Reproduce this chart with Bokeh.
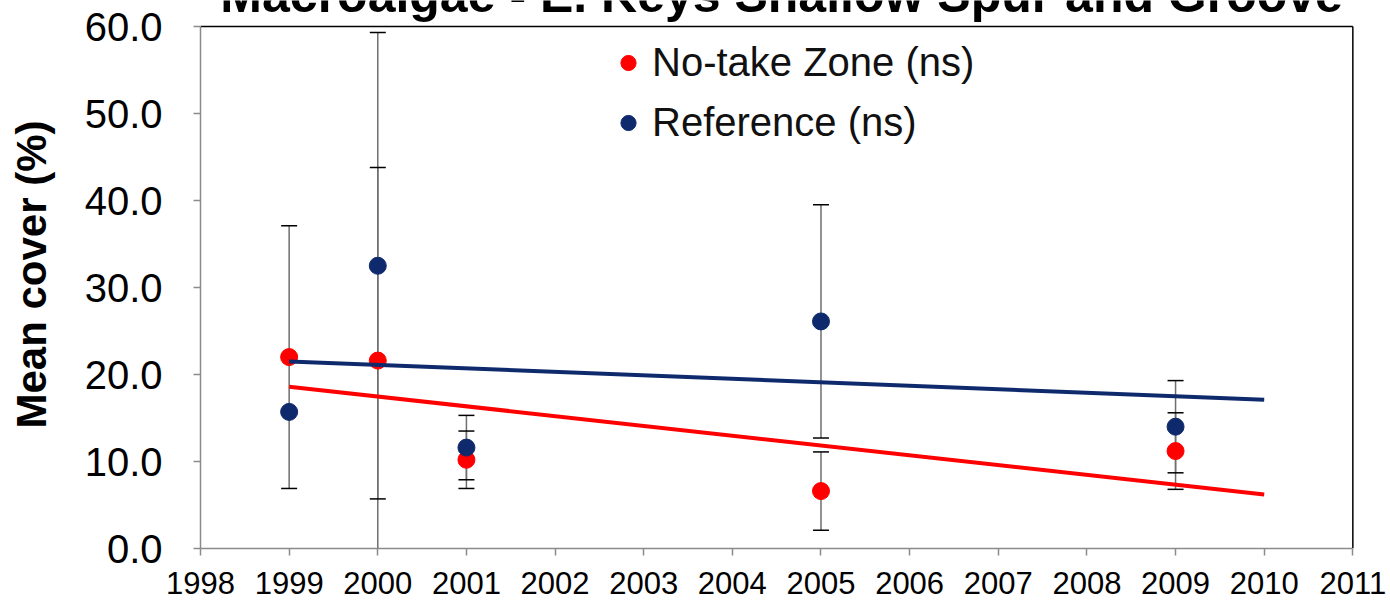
from bokeh.plotting import figure
from bokeh.models import (ColumnDataSource, Legend, LegendItem,
                          PrintfTickFormatter, FixedTicker)
from bokeh.core.properties import value
from bokeh.embed import file_html
from bokeh.resources import INLINE

# ---- data ----
years = [1999, 2000, 2001, 2005, 2009]
notake_mean = [22.0, 21.6, 10.2, 6.6, 11.2]
notake_err = [15.1, 22.2, 3.3, 4.5, 4.4]
reference_mean = [15.7, 32.5, 11.6, 26.1, 14.0]
reference_err = [None, 26.8, 3.7, 13.4, 5.3]

trend_years = [1999, 2010]
notake_trend = [18.6, 6.2]
reference_trend = [21.5, 17.1]

x_ticks = list(range(1998, 2012))
y_ticks = [0, 10, 20, 30, 40, 50, 60]
x_min, x_max = 1998, 2011
y_min, y_max = 0, 60

title_text = "Macroalgae - E. Keys Shallow Spur and Groove"
y_title = "Mean cover (%)"
notake_label = "No-take Zone (ns)"
reference_label = "Reference (ns)"

RED = "#FF0000"
NAVY = "#0F2A6C"
FONT = "Liberation Sans"

# the frame reaches the top of the canvas so that the (cut) chart title can
# sit just above the 60.0 line, like in the reference
p = figure(width=1390, height=612,
           x_range=(x_min, x_max + 0.03), y_range=(y_min, y_max * 548 / 522),
           output_backend="svg", toolbar_location=None,
           min_border_left=200, min_border_right=35,
           min_border_top=0, min_border_bottom=64)
p.outline_line_color = None
p.xgrid.visible = False
p.ygrid.visible = False
p.background_fill_color = "white"
p.border_fill_color = "white"

# axes
p.xaxis.ticker = FixedTicker(ticks=x_ticks)
p.yaxis.ticker = FixedTicker(ticks=y_ticks)
p.xaxis.bounds = (x_min, x_max)
p.yaxis.bounds = (y_min, y_max)
p.yaxis.formatter = PrintfTickFormatter(format="%.1f")
for ax in (p.xaxis, p.yaxis):
    ax.axis_line_color = "#8a8a8a"
    ax.axis_line_width = 1.5
    ax.major_tick_line_color = "#8a8a8a"
    ax.major_tick_line_width = 1.5
    ax.major_tick_out = 7
    ax.major_tick_in = 0
    ax.minor_tick_line_color = None
    ax.major_label_text_font = FONT
    ax.major_label_text_color = "black"
p.xaxis.major_label_text_font_size = "31px"
p.xaxis.major_label_standoff = 16
p.yaxis.major_label_text_font_size = "40px"
p.yaxis.major_label_standoff = 31
p.yaxis.axis_label = y_title
p.yaxis.axis_label_text_font = FONT
p.yaxis.axis_label_text_font_size = "42px"
p.yaxis.axis_label_text_font_style = "bold"
p.yaxis.axis_label_text_color = "black"
p.yaxis.axis_label_standoff = 27

# top and right borders of the plot area
p.segment(x0=[x_min, x_max], y0=[y_max, y_min], x1=[x_max, x_max], y1=[y_max, y_max],
          line_color="black", line_width=1.5)

# error bars
ex, elo, ehi = [], [], []
for means, errs in ((notake_mean, notake_err), (reference_mean, reference_err)):
    for x, m, e in zip(years, means, errs):
        if e is None:
            continue
        ex.append(x)
        elo.append(m - e)
        ehi.append(m + e)
err_src = ColumnDataSource(dict(x=ex, lo=elo, hi=ehi))
p.segment(x0="x", y0="lo", x1="x", y1="hi", source=err_src,
          line_color="#6e6e6e", line_width=1.5)
p.scatter(x="x", y="lo", source=err_src, marker="dash", size=16,
          line_color="black", line_width=1.5)
p.scatter(x="x", y="hi", source=err_src, marker="dash", size=16,
          line_color="black", line_width=1.5)

# points
r_nt = p.scatter(years, notake_mean, size=17, fill_color=RED, line_color=RED)
r_rf = p.scatter(years, reference_mean, size=17, fill_color=NAVY, line_color=NAVY)

# trend lines
p.line(trend_years, notake_trend, line_color=RED, line_width=4)
p.line(trend_years, reference_trend, line_color=NAVY, line_width=4)

# legend
legend = Legend(items=[LegendItem(label=notake_label, renderers=[r_nt]),
                       LegendItem(label=reference_label, renderers=[r_rf])],
                location=(409, 403), orientation="vertical",
                padding=0, margin=0, spacing=15,
                glyph_width=38, glyph_height=45, label_height=45,
                label_standoff=5,
                label_text_font=FONT, label_text_font_size="40px",
                label_text_color="#111111",
                background_fill_alpha=0, border_line_color=None)
p.add_layout(legend)

# chart title, cut by the top edge as in the reference
p.text(x=[2004.556], y=[60.39], text=[title_text], text_font=value(FONT),
       text_font_size=value("50px"), text_font_style=value("bold"),
       text_align=value("center"), text_baseline=value("bottom"),
       text_color="black")

open("out.html", "w").write(file_html(p, INLINE))
